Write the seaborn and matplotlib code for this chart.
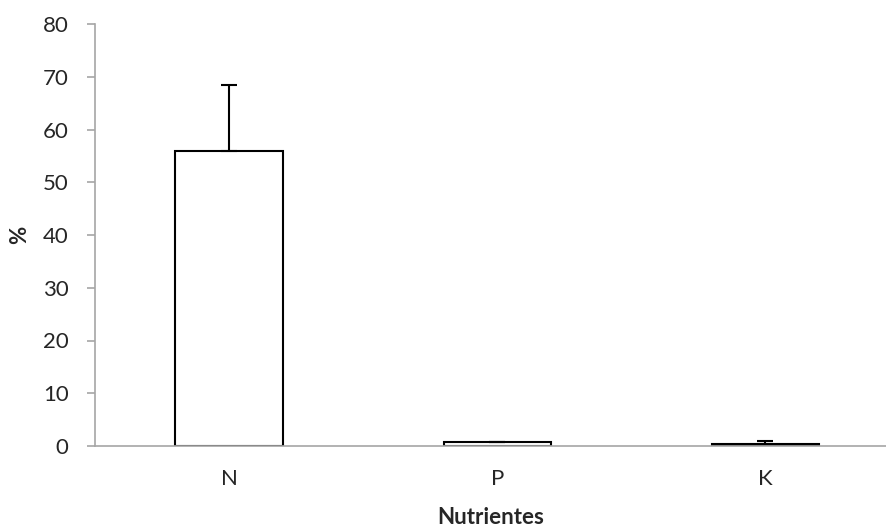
import pandas as pd
import matplotlib
matplotlib.use("Agg")
import matplotlib.pyplot as plt
import seaborn as sns

nutrients = ["N", "P", "K"]
percent = [56.0, 0.7, 0.45]
err_up = [12.5, 0.0, 0.45]

df = pd.DataFrame({"Nutrientes": nutrients, "pct": percent})

sns.set_style("white")
plt.rcParams['font.family'] = ['Lato', 'DejaVu Sans']

fig = plt.figure(figsize=(8.86, 5.31), dpi=100)
ax = fig.add_axes([95 / 886, 1 - 446 / 531, 1 - 95 / 886, (446 - 24) / 531])

sns.barplot(data=df, x="Nutrientes", y="pct", color="white", edgecolor="black",
            linewidth=1.5, width=0.4, errorbar=None, ax=ax)

ax.errorbar(range(len(nutrients)), percent, yerr=[[0] * 3, err_up], fmt="none",
            ecolor="black", elinewidth=1.5, capsize=6, capthick=1.5)

ax.set_ylim(0, 80)
ax.set_xlim(-0.5, 2.45)
ax.set_yticks(range(0, 81, 10))

for s in ["top", "right"]:
    ax.spines[s].set_visible(False)
for s in ["left", "bottom"]:
    ax.spines[s].set_color("#a6a6a6")
    ax.spines[s].set_linewidth(1.2)

ax.tick_params(axis="y", left=True, length=6, width=1.2, color="#a6a6a6",
               labelsize=16, pad=13)
ax.tick_params(axis="x", bottom=False, labelsize=16, pad=13)

ax.set_xlabel("Nutrientes", fontsize=16, fontweight="bold", labelpad=13)
ax.set_ylabel("%", fontsize=16, fontweight="bold", labelpad=9)

fig.savefig("out.png", dpi=100)
